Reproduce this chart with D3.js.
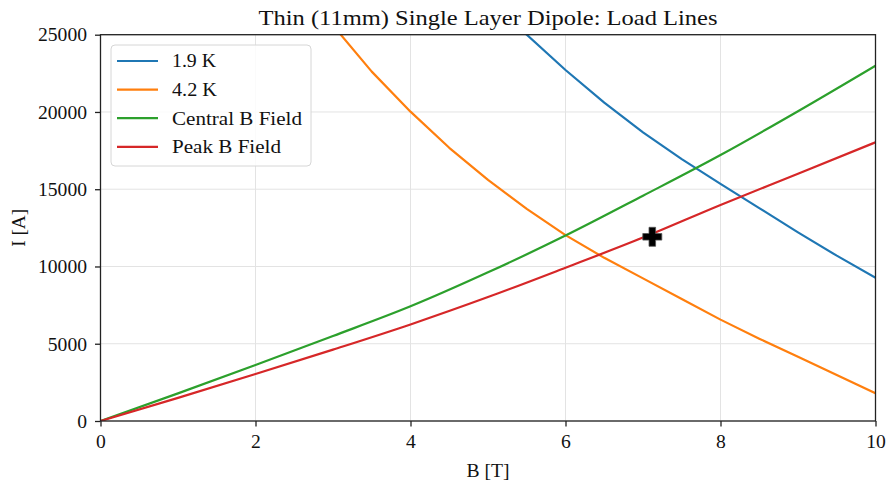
<!DOCTYPE html>
<html><head><meta charset="utf-8">
<script src="https://cdn.jsdelivr.net/npm/d3@7"></script>
<style>
html,body{margin:0;padding:0;background:#fff;}
text{font-family:"Liberation Serif","Times New Roman",serif;fill:#111;}
</style></head>
<body><svg id="c" width="886" height="481"></svg>
<script>
const xTicks = [0, 2, 4, 6, 8, 10];
const yTicks = [0, 5000, 10000, 15000, 20000, 25000];
const b19 = [5.0, 5.5, 6.0, 6.5, 7.0, 7.5, 8.0, 8.5, 9.0, 9.5, 10.0];
const i19 = [27600, 25000, 22717, 20600, 18680, 16950, 15350, 13780, 12210, 10700, 9275];
const b42 = [3.0, 3.5, 4.0, 4.5, 5.0, 5.5, 6.0, 6.5, 7.0, 7.5, 8.0, 8.5, 9.0, 9.5, 10.0];
const i42 = [25600, 22610, 20020, 17680, 15600, 13730, 12030, 10560, 9230, 7900, 6560, 5330, 4160, 2970, 1790];
const bField = [0, 1, 2, 3, 4, 5, 6, 7, 8, 9, 10];
const iCentral = [0, 1790, 3624, 5500, 7420, 9620, 12000, 14580, 17215, 20050, 22996];
const iPeak = [0, 1500, 3042, 4620, 6250, 8020, 9920, 11870, 13980, 16000, 18037];
const marker = {b: 7.12, i: 11920};
const labels = ["1.9 K", "4.2 K", "Central B Field", "Peak B Field"];
const labelWidths = [44, 45, 130, 109];
const colors = ["#1f77b4", "#ff7f0e", "#2ca02c", "#d62728"];

const svg = d3.select("#c");
const L = 100.5, R = 875.5, T = 34.7, B = 421;
const x = d3.scaleLinear().domain([0, 10]).range([L, R]);
const y = d3.scaleLinear().domain([0, 25000]).range([B, T]);
const fs = 19.6;

svg.append("defs").append("clipPath").attr("id", "clip")
  .append("rect").attr("x", L).attr("y", T).attr("width", R - L).attr("height", B - T);

// grid
const g = svg.append("g");
g.selectAll(".gx").data(xTicks).join("line")
  .attr("x1", d => x(d)).attr("x2", d => x(d)).attr("y1", T).attr("y2", B)
  .attr("stroke", "#e3e3e3").attr("stroke-width", 1);
g.selectAll(".gy").data(yTicks).join("line")
  .attr("x1", L).attr("x2", R).attr("y1", d => y(d)).attr("y2", d => y(d))
  .attr("stroke", "#e3e3e3").attr("stroke-width", 1);

// series
const series = [
  {xs: b19, ys: i19, curve: d3.curveLinear},
  {xs: b42, ys: i42, curve: d3.curveLinear},
  {xs: bField, ys: iCentral, curve: d3.curveMonotoneX},
  {xs: bField, ys: iPeak, curve: d3.curveMonotoneX}
];
const pg = svg.append("g").attr("clip-path", "url(#clip)");
series.forEach((s, k) => {
  const line = d3.line().x(d => x(d[0])).y(d => y(d[1])).curve(s.curve);
  pg.append("path").attr("d", line(s.xs.map((v, j) => [v, s.ys[j]])))
    .attr("fill", "none").attr("stroke", colors[k]).attr("stroke-width", 2.2)
    .attr("stroke-linejoin", "round").attr("stroke-linecap", "square");
});

// marker (filled plus)
const mx = x(marker.b), my = y(marker.i), a = 9.5, w = 3.3;
const plus = `M${mx - w},${my - a}H${mx + w}V${my - w}H${mx + a}V${my + w}H${mx + w}V${my + a}H${mx - w}V${my + w}H${mx - a}V${my - w}H${mx - w}Z`;
svg.append("path").attr("d", plus).attr("fill", "#000").attr("stroke", "#555").attr("stroke-width", 0.8);

// axes
const xa = svg.append("g").attr("transform", `translate(0,${B})`)
  .call(d3.axisBottom(x).tickValues(xTicks).tickSize(5.5).tickPadding(8).tickFormat(d3.format("d")));
const ya = svg.append("g").attr("transform", `translate(${L},0)`)
  .call(d3.axisLeft(y).tickValues(yTicks).tickSize(5.5).tickPadding(8).tickFormat(d => String(d)));
[xa, ya].forEach(ax => {
  ax.select(".domain").remove();
  ax.selectAll("line").attr("stroke", "#222").attr("stroke-width", 1.3);
  ax.selectAll("text").style("font-family", "Liberation Serif, serif").style("font-size", fs + "px").attr("fill", "#111");
});
xa.selectAll("text").attr("dy", "0.71em");

// spines
svg.append("rect").attr("x", L).attr("y", T).attr("width", R - L).attr("height", B - T)
  .attr("fill", "none").attr("stroke", "#222").attr("stroke-width", 1.3);

// title & labels
svg.append("text").attr("x", (L + R) / 2).attr("y", 25).attr("text-anchor", "middle")
  .style("font-size", "21px").attr("textLength", 459).attr("lengthAdjust", "spacingAndGlyphs")
  .text("Thin (11mm) Single Layer Dipole: Load Lines");
svg.append("text").attr("x", (L + R) / 2).attr("y", 477).attr("text-anchor", "middle")
  .style("font-size", fs + "px").attr("textLength", 43).attr("lengthAdjust", "spacingAndGlyphs").text("B [T]");
svg.append("text").attr("transform", `translate(25,${(T + B) / 2}) rotate(-90)`).attr("text-anchor", "middle")
  .style("font-size", fs + "px").attr("textLength", 38).attr("lengthAdjust", "spacingAndGlyphs").text("I [A]");

// legend
const lg = svg.append("g");
lg.append("rect").attr("x", 111).attr("y", 45).attr("width", 200).attr("height", 121).attr("rx", 4)
  .attr("fill", "#fff").attr("fill-opacity", 0.85).attr("stroke", "#d6d6d6").attr("stroke-width", 1);
labels.forEach((t, k) => {
  const yy = 61 + k * 28.6;
  lg.append("line").attr("x1", 117).attr("x2", 158).attr("y1", yy).attr("y2", yy)
    .attr("stroke", colors[k]).attr("stroke-width", 2.2);
  lg.append("text").attr("x", 172).attr("y", yy).attr("dy", "0.33em").style("font-size", fs + "px")
    .attr("textLength", labelWidths[k]).attr("lengthAdjust", "spacingAndGlyphs").text(t);
});
</script></body></html>
